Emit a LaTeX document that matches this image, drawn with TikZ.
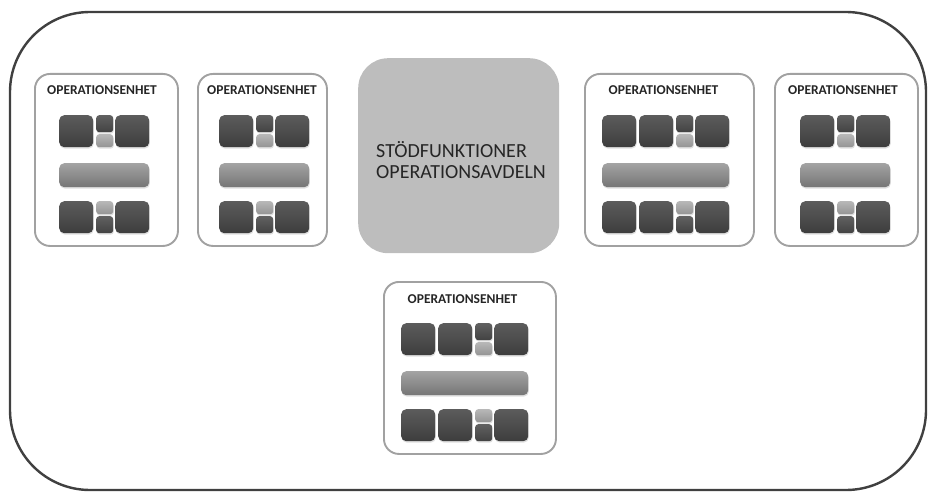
\documentclass[tikz,border=0pt]{standalone}
\usepackage{fontspec}
\setmainfont{Carlito}
\usetikzlibrary{shapes,positioning,shadows}
\tikzstyle{ram} = [draw=black!75, line width=2.4pt, rounded corners=80pt]
\tikzstyle{enhet} = [draw=black!37, line width=1.9pt, rounded corners=15pt, fill=white, minimum height=172pt, inner sep=0pt, anchor=north west]
\tikzstyle{rubrik} = [font=\fontsize{13.5}{15}\selectfont\bfseries, text=black!85, anchor=base, inner sep=0pt]
\tikzstyle{stod} = [fill=black!26, rounded corners=30pt, minimum width=201pt, minimum height=195pt, anchor=north west, inner sep=0pt]
\tikzstyle{stodtext} = [font=\fontsize{20}{22}\selectfont, text=black!85, anchor=base west, inner sep=0pt]
\tikzstyle{kloss} = [rounded corners=5pt, inner sep=0pt, anchor=north west, drop shadow={opacity=0.25, shadow xshift=0.6pt, shadow yshift=-1.4pt}]
\tikzstyle{stor} = [kloss, top color=black!64, bottom color=black!76, minimum width=34pt, minimum height=32pt]
\tikzstyle{litenmork} = [kloss, top color=black!62, bottom color=black!74, minimum width=17pt, minimum height=17pt, rounded corners=3pt]
\tikzstyle{litenljus} = [kloss, top color=black!28, bottom color=black!42, minimum width=17pt, minimum height=13pt, rounded corners=3pt]
\tikzstyle{balk} = [kloss, top color=black!36, bottom color=black!54, minimum height=24pt, rounded corners=5pt]

% #1 namn, #2 x, #3 y, #4 bredd, #5 x for klossarna, #6 antal stora klossar fore de sma
\newcommand{\enhet}[6]{%
  \node[enhet, minimum width=#4pt] (#1) at (#2,#3) {};
  \pgfmathsetmacro\balkbredd{37*#6+53}
  \node[rubrik] (#1-rubrik) at (#5+\balkbredd/2-2, #3+22) {OPERATIONSENHET};
  % ovre raden
  \foreach \i in {1,...,#6}
    \node[stor] (#1-o\i) at (#5+37*\i-37, #3+42) {};
  \node[litenmork] (#1-om) at (#5+37*#6, #3+42) {};
  \node[litenljus] (#1-ol) at (#5+37*#6, #3+61) {};
  \node[stor] (#1-oh) at (#5+37*#6+19, #3+42) {};
  % balken
  \node[balk, minimum width=\balkbredd pt] (#1-balk) at (#5, #3+90) {};
  % nedre raden
  \foreach \i in {1,...,#6}
    \node[stor] (#1-n\i) at (#5+37*\i-37, #3+128) {};
  \node[litenljus] (#1-nl) at (#5+37*#6, #3+128) {};
  \node[litenmork] (#1-nm) at (#5+37*#6, #3+143) {};
  \node[stor] (#1-nh) at (#5+37*#6+19, #3+128) {};
}

\begin{document}
\begin{tikzpicture}[x=1pt, y=-1pt]
\useasboundingbox (0,0) rectangle (928,492);
\draw[ram] (10,12) rectangle (926,490);

\enhet{enhet1}{34}{73}{143}{59}{1}
\enhet{enhet2}{197}{73}{129}{219}{1}
\enhet{enhet3}{584}{73}{169}{602}{2}
\enhet{enhet4}{774}{73}{143}{800}{1}
\enhet{enhet5}{383}{281}{172}{401}{2}

\node[stod] (stod) at (358,58) {};
\node[stodtext] (stod-rad1) at (376,157) {STÖDFUNKTIONER};
\node[stodtext] (stod-rad2) at (376,178) {OPERATIONSAVDELN};
\end{tikzpicture}
\end{document}
